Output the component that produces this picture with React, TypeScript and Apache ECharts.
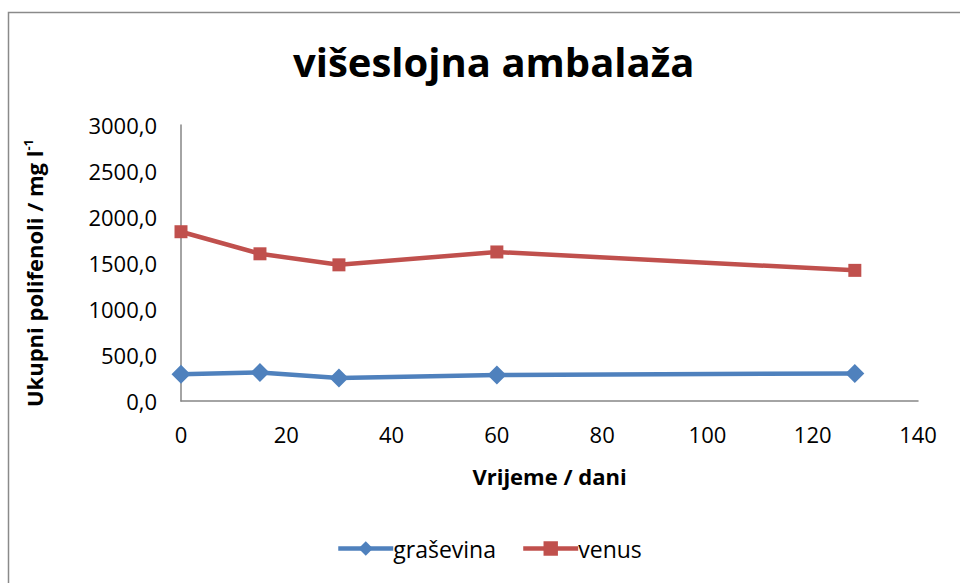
import React, { useEffect, useRef } from "react";
import * as echarts from "echarts";

const days = [0, 15, 30, 60, 128];
const grasevina = [290, 310, 250, 282, 300];
const venus = [1840, 1600, 1480, 1620, 1420];
const titleText = "višeslojna ambalaža";
const xName = "Vrijeme / dani";
const seriesNames = ["graševina", "venus"];

export default function App() {
  const ref = useRef<HTMLDivElement>(null);
  useEffect(() => {
    document.body.style.margin = "0";
    const chart = echarts.init(ref.current!, null, { renderer: "svg" });
    const font = "'Open Sans', 'Liberation Sans', sans-serif";
    chart.setOption({
      animation: false,
      backgroundColor: "#fff",
      textStyle: { fontFamily: font },
      title: {
        text: titleText,
        left: 288,
        top: 36,
        textStyle: { fontSize: 40, fontWeight: "bold", color: "#000", fontFamily: font },
      },
      graphic: [
        {
          type: "rect",
          shape: { x: 8.5, y: 12.5, width: 1000, height: 700 },
          style: { fill: "none", stroke: "#8a8a8a", lineWidth: 1.5 },
          silent: true,
        },
        {
          type: "text",
          x: 34,
          y: 273,
          rotation: Math.PI / 2,
          style: {
            text: "{a|Ukupni polifenoli / mg l}{s|-1}",
            align: "center",
            verticalAlign: "middle",
            rich: {
              a: { fontSize: 22, fontWeight: "bold", fill: "#000", fontFamily: font },
              s: { fontSize: 13, fontWeight: "bold", fill: "#000", fontFamily: font, verticalAlign: "top", padding: [0, 0, 12, 0] },
            },
          },
        },
      ],
      grid: { left: 181, right: 42, top: 125, bottom: 182 },
      legend: {
        bottom: 18,
        left: 331,
        itemWidth: 55,
        itemHeight: 18,
        itemGap: 25,
        lineStyle: { width: 4.5 },
        textStyle: { fontSize: 23, color: "#000", fontFamily: font, padding: [0, 0, 0, -5] },
        data: seriesNames,
      },
      xAxis: {
        type: "value",
        min: 0,
        max: 140,
        interval: 20,
        name: xName,
        nameLocation: "middle",
        nameGap: 64,
        nameTextStyle: { fontSize: 22, fontWeight: "bold", color: "#000", fontFamily: font },
        axisLine: { lineStyle: { color: "#868686", width: 1.5 } },
        axisTick: { show: false },
        splitLine: { show: false },
        axisLabel: { fontSize: 22, color: "#000", margin: 22, fontFamily: font },
      },
      yAxis: {
        type: "value",
        min: 0,
        max: 3000,
        interval: 500,
        axisLine: { show: true, lineStyle: { color: "#868686", width: 1.5 } },
        axisTick: { show: false },
        splitLine: { show: false },
        axisLabel: {
          fontSize: 22,
          color: "#000",
          margin: 24,
          fontFamily: font,
          formatter: (v: number) => v.toFixed(1).replace(".", ","),
        },
      },
      series: [
        {
          name: seriesNames[0],
          type: "line",
          data: days.map((d, i) => [d, grasevina[i]]),
          symbol: "diamond",
          symbolSize: 19,
          lineStyle: { color: "#4F81BD", width: 4.5 },
          itemStyle: { color: "#4F81BD" },
        },
        {
          name: seriesNames[1],
          type: "line",
          data: days.map((d, i) => [d, venus[i]]),
          symbol: "rect",
          symbolSize: 13,
          lineStyle: { color: "#C0504D", width: 4.5 },
          itemStyle: { color: "#C0504D" },
        },
      ],
    });
    return () => chart.dispose();
  }, []);
  return <div ref={ref} style={{ width: 960, height: 583 }} />;
}
